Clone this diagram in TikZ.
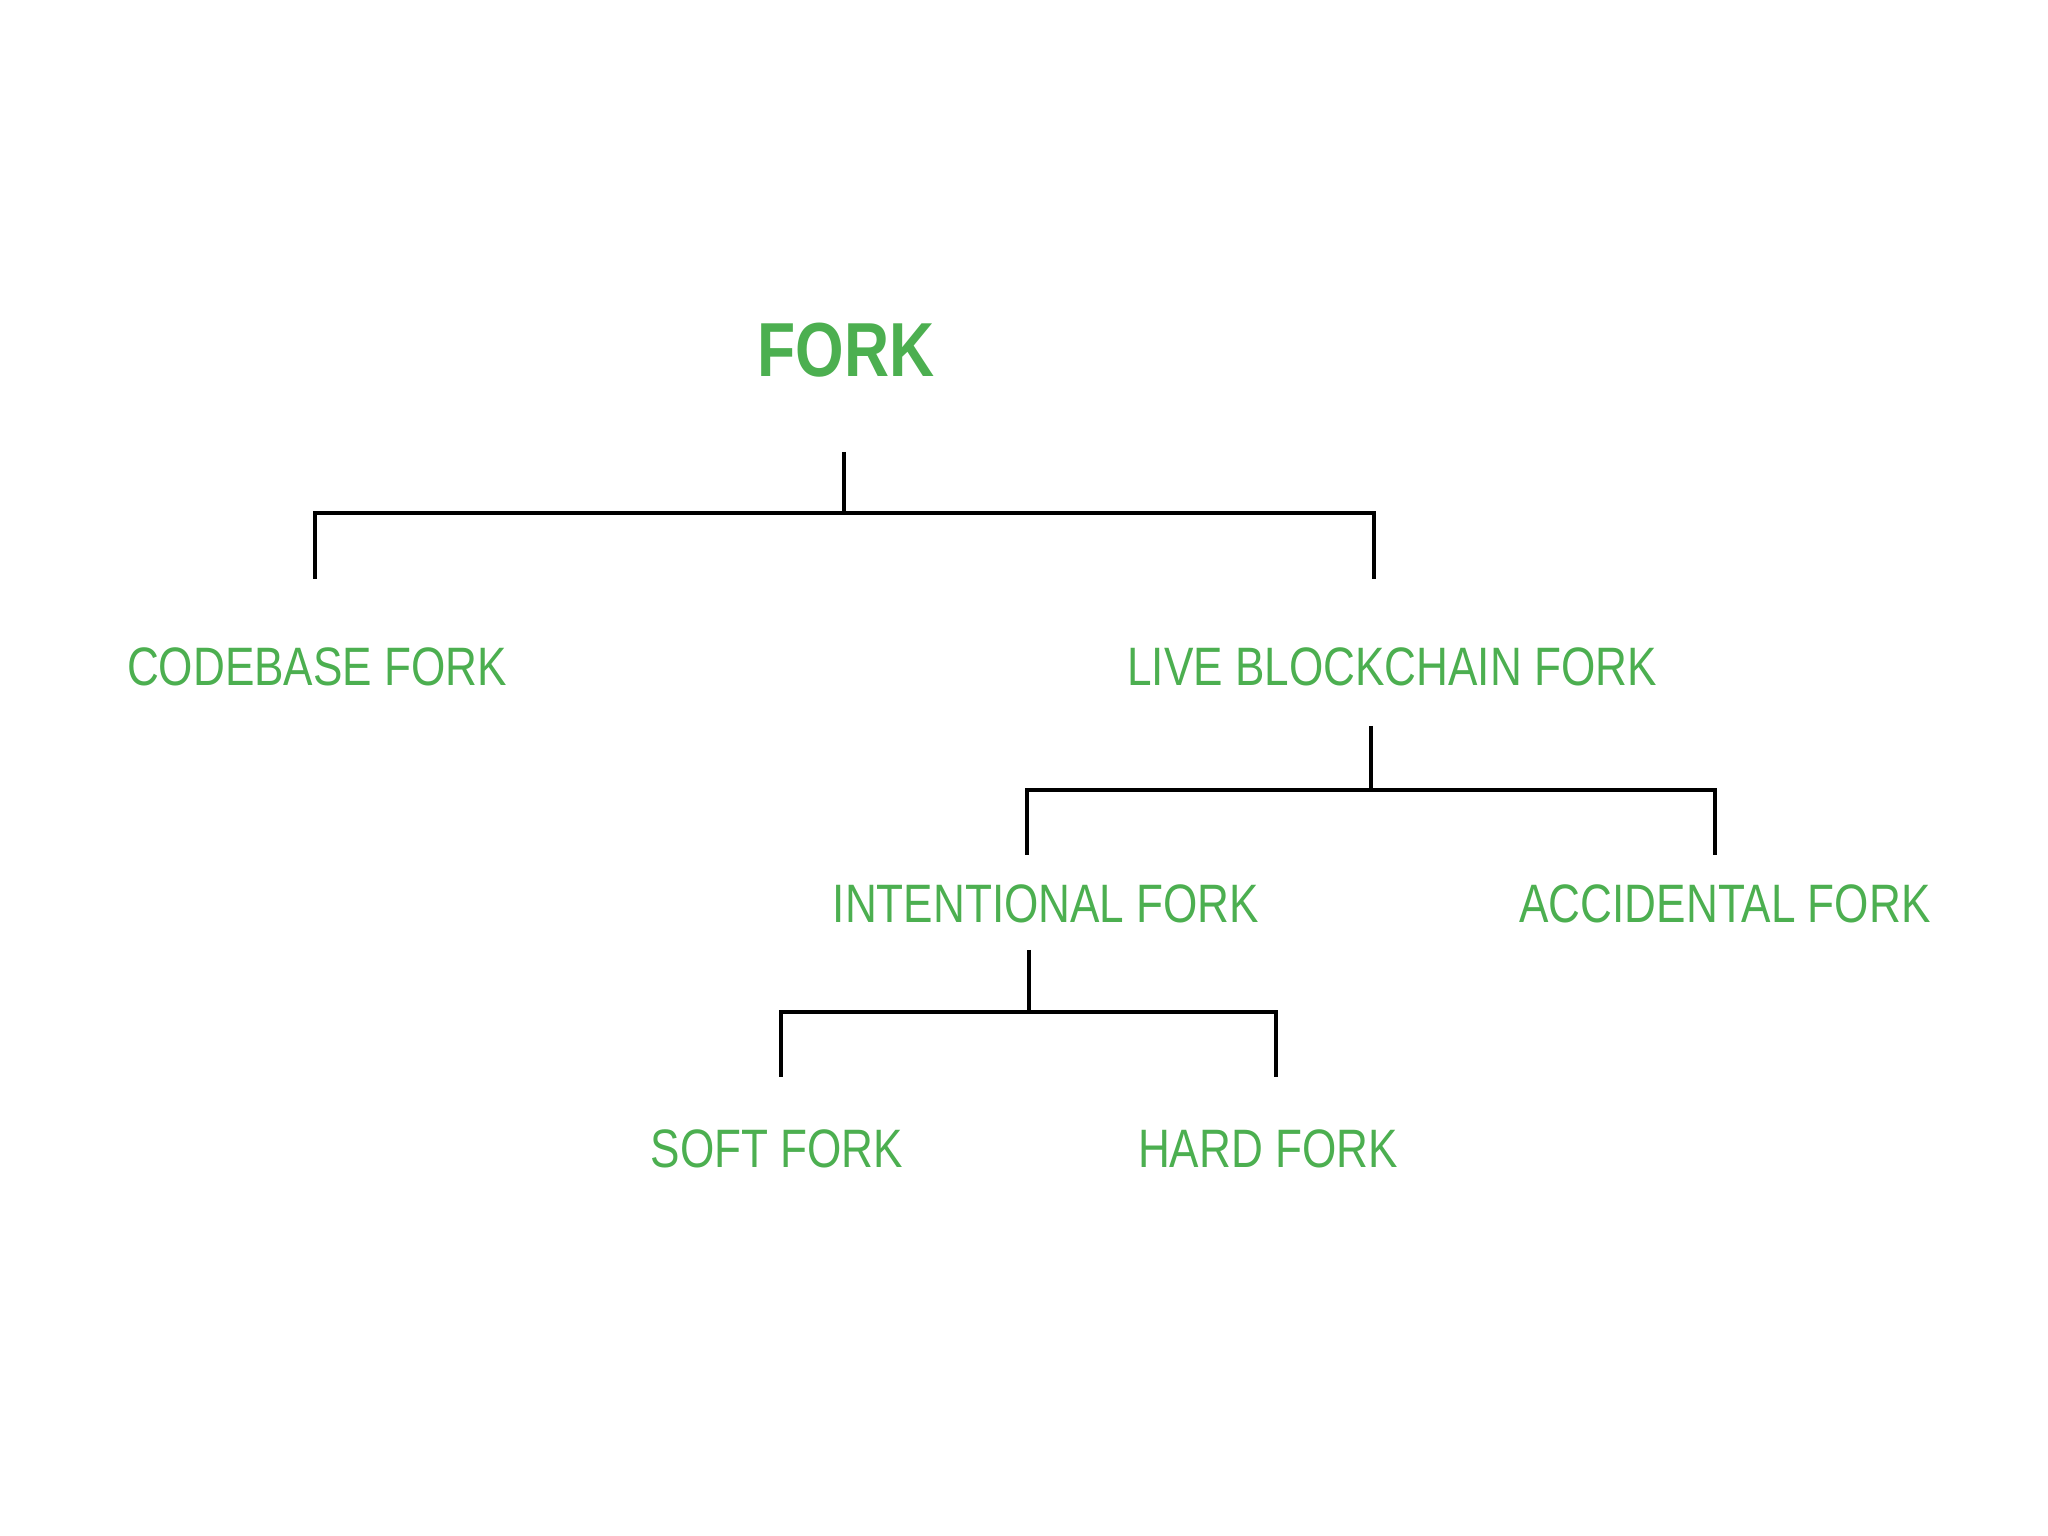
\documentclass[tikz,border=0pt]{standalone}
\usepackage{fontspec}
\setmainfont{Liberation Sans}[FakeStretch=0.815]
\usetikzlibrary{positioning}
\definecolor{forkgreen}{RGB}{76,175,80}

\begin{document}
\begin{tikzpicture}[
 lbl/.style={text=forkgreen,inner sep=0pt,font=\fontsize{15.4}{18}\selectfont},
 ttl/.style={lbl,font=\fontsize{21.8}{26}\selectfont\bfseries},
 tree/.style={draw=black,line width=1.4pt}]
\useasboundingbox (0,0) rectangle (20.48,-15.36);
\node[ttl] (fork) at (8.46,-3.50) {FORK};
\node[lbl] (code) at (3.17,-6.67) {CODEBASE FORK};
\node[lbl] (live) at (13.92,-6.67) {LIVE BLOCKCHAIN FORK};
\node[lbl] (intent) at (10.46,-9.04) {INTENTIONAL FORK};
\node[lbl] (accid) at (17.25,-9.04) {ACCIDENTAL FORK};
\node[lbl] (soft) at (7.77,-11.49) {SOFT FORK};
\node[lbl] (hard) at (12.68,-11.49) {HARD FORK};
% junctions of the brackets
\coordinate (j1) at (8.44,-5.13);
\coordinate (j2) at (13.71,-7.90);
\coordinate (j3) at (10.29,-10.12);
\coordinate (t1) at ([yshift=-7.4mm]fork.south);
\coordinate (t2) at ([yshift=-3.9mm]live.south);
\coordinate (t3) at ([yshift=-2.6mm]intent.south);
\draw[tree] (j1 |- t1) -- (j1);
\draw[tree] (j1) -| ([xshift=-0.2mm,yshift=6.8mm]code.north);
\draw[tree] (j1) -| ([xshift=-1.8mm,yshift=6.8mm]live.north);
\draw[tree] (j2 |- t2) -- (j2);
\draw[tree] (j2) -| ([xshift=-1.9mm,yshift=2.9mm]intent.north);
\draw[tree] (j2) -| ([xshift=-1.0mm,yshift=2.9mm]accid.north);
\draw[tree] (j3 |- t3) -- (j3);
\draw[tree] (j3) -| ([xshift=0.4mm,yshift=5.2mm]soft.north);
\draw[tree] (j3) -| ([xshift=0.8mm,yshift=5.2mm]hard.north);
\end{tikzpicture}
\end{document}
